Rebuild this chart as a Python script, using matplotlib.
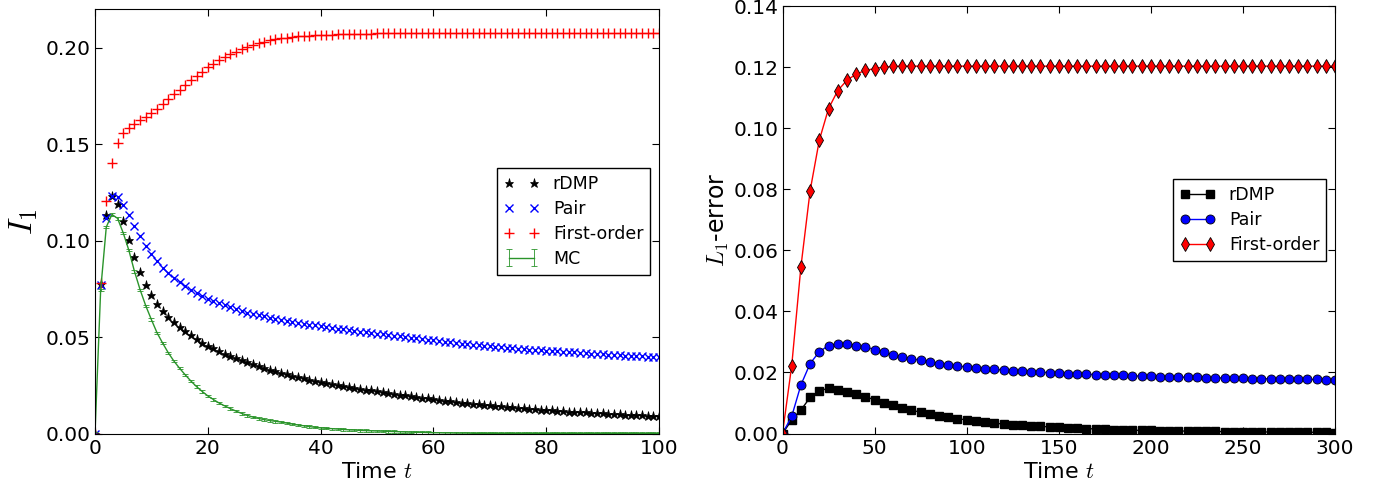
import numpy as np
import matplotlib
matplotlib.use("Agg")
import matplotlib.pyplot as plt

# ---- left panel: I_1 over time (one value per integer t) ----
t_left = np.arange(0, 101)

first_order_left = [
    0.0, 0.0780, 0.1203, 0.1404, 0.1504, 0.1555, 0.1582, 0.1605, 0.1624, 0.1641,
    0.1660, 0.1684, 0.1710, 0.1734, 0.1758, 0.1782, 0.1808, 0.1831, 0.1854, 0.1876,
    0.1897, 0.1916, 0.1935, 0.1952, 0.1965, 0.1979, 0.1991, 0.2004, 0.2014, 0.2022,
    0.2031, 0.2038, 0.2043, 0.2048, 0.2052, 0.2055, 0.2058, 0.2060, 0.2062, 0.2063,
    0.2064, 0.2066, 0.2067, 0.2068, 0.2069, 0.2070, 0.2071, 0.2072, 0.2072, 0.2073,
    0.2074, 0.2074, 0.2074, 0.2074, 0.2074, 0.2075, 0.2075, 0.2075, 0.2075, 0.2075,
    0.2075, 0.2075, 0.2075, 0.2075, 0.2075, 0.2075, 0.2075, 0.2075, 0.2075, 0.2075,
    0.2075, 0.2075, 0.2075, 0.2075, 0.2075, 0.2075, 0.2075, 0.2075, 0.2075, 0.2075,
    0.2075, 0.2075, 0.2075, 0.2075, 0.2075, 0.2075, 0.2075, 0.2075, 0.2075, 0.2075,
    0.2075, 0.2075, 0.2075, 0.2075, 0.2075, 0.2075, 0.2075, 0.2075, 0.2075, 0.2075,
    0.2075,
]

pair_left = [
    0.0, 0.0772, 0.1115, 0.1232, 0.1227, 0.1184, 0.1132, 0.1074, 0.1022, 0.0973,
    0.0930, 0.0892, 0.0859, 0.0831, 0.0808, 0.0785, 0.0764, 0.0745, 0.0728, 0.0713,
    0.0699, 0.0687, 0.0675, 0.0665, 0.0655, 0.0645, 0.0636, 0.0627, 0.0620, 0.0613,
    0.0607, 0.0600, 0.0594, 0.0588, 0.0583, 0.0578, 0.0573, 0.0569, 0.0564, 0.0560,
    0.0556, 0.0552, 0.0548, 0.0544, 0.0540, 0.0536, 0.0532, 0.0528, 0.0525, 0.0521,
    0.0517, 0.0514, 0.0510, 0.0507, 0.0503, 0.0500, 0.0496, 0.0493, 0.0489, 0.0486,
    0.0482, 0.0479, 0.0476, 0.0472, 0.0469, 0.0466, 0.0463, 0.0460, 0.0457, 0.0454,
    0.0451, 0.0449, 0.0447, 0.0444, 0.0442, 0.0440, 0.0438, 0.0435, 0.0433, 0.0431,
    0.0429, 0.0427, 0.0425, 0.0423, 0.0422, 0.0420, 0.0418, 0.0416, 0.0414, 0.0413,
    0.0411, 0.0409, 0.0408, 0.0406, 0.0404, 0.0403, 0.0401, 0.0400, 0.0399, 0.0397,
    0.0396,
]

rdmp_left = [
    0.0, 0.0777, 0.1132, 0.1232, 0.1189, 0.1103, 0.1003, 0.0914, 0.0837, 0.0772,
    0.0716, 0.0670, 0.0634, 0.0605, 0.0576, 0.0552, 0.0529, 0.0509, 0.0488, 0.0471,
    0.0455, 0.0442, 0.0428, 0.0414, 0.0402, 0.0390, 0.0380, 0.0370, 0.0359, 0.0349,
    0.0340, 0.0331, 0.0323, 0.0315, 0.0307, 0.0300, 0.0292, 0.0286, 0.0279, 0.0273,
    0.0268, 0.0262, 0.0257, 0.0251, 0.0246, 0.0241, 0.0236, 0.0232, 0.0227, 0.0223,
    0.0219, 0.0214, 0.0210, 0.0206, 0.0201, 0.0197, 0.0193, 0.0189, 0.0185, 0.0182,
    0.0178, 0.0174, 0.0171, 0.0167, 0.0164, 0.0160, 0.0157, 0.0154, 0.0151, 0.0149,
    0.0146, 0.0143, 0.0141, 0.0138, 0.0136, 0.0133, 0.0131, 0.0129, 0.0126, 0.0124,
    0.0122, 0.0120, 0.0118, 0.0116, 0.0114, 0.0112, 0.0110, 0.0109, 0.0107, 0.0105,
    0.0104, 0.0102, 0.0101, 0.0099, 0.0098, 0.0096, 0.0095, 0.0094, 0.0092, 0.0091,
    0.0090,
]

mc_left = [
    0.0, 0.0742, 0.1070, 0.1135, 0.1115, 0.1040, 0.0950, 0.0840, 0.0745, 0.0662,
    0.0590, 0.0522, 0.0468, 0.0418, 0.0375, 0.0338, 0.0304, 0.0272, 0.0243, 0.0218,
    0.0195, 0.0176, 0.0158, 0.0143, 0.0129, 0.0116, 0.0104, 0.0094, 0.0085, 0.0078,
    0.0072, 0.0067, 0.0063, 0.0059, 0.0054, 0.0049, 0.0044, 0.0040, 0.0036, 0.0032,
    0.0029, 0.0027, 0.0025, 0.0023, 0.0021, 0.0019, 0.0018, 0.0016, 0.0015, 0.0014,
    0.0013, 0.0012, 0.0011, 0.0010, 0.0009, 0.0008, 0.0007, 0.0006, 0.0006, 0.0005,
    0.0004, 0.0004, 0.0003, 0.0003, 0.0002, 0.0002, 0.0002, 0.0001, 0.0001, 0.0001,
    0.0001, 0.0, 0.0, 0.0, 0.0, 0.0, 0.0, 0.0, 0.0, 0.0,
    0.0, 0.0, 0.0, 0.0, 0.0, 0.0, 0.0, 0.0, 0.0, 0.0,
    0.0, 0.0, 0.0, 0.0, 0.0, 0.0, 0.0, 0.0, 0.0, 0.0,
    0.0,
]
mc_err = 0.0006

# ---- right panel: L1 error, every 5 time units ----
t_right = np.arange(0, 301, 5)

rdmp_err = [
    0.0, 0.0044, 0.0077, 0.0118, 0.0140, 0.0148, 0.0144, 0.0137, 0.0130, 0.0121,
    0.0110, 0.0101, 0.0092, 0.0084, 0.0076, 0.0070, 0.0064, 0.0058, 0.0053, 0.0048,
    0.0045, 0.0041, 0.0037, 0.0034, 0.0031, 0.0029, 0.0027, 0.0025, 0.0023, 0.0022,
    0.0020, 0.0019, 0.0017, 0.0016, 0.0015, 0.0014, 0.0013, 0.0012, 0.0011, 0.0010,
    0.0010, 0.0009, 0.0009, 0.0008, 0.0008, 0.0007, 0.0007, 0.0007, 0.0006, 0.0006,
    0.0006, 0.0005, 0.0005, 0.0005, 0.0005, 0.0004, 0.0004, 0.0004, 0.0004, 0.0004,
    0.0003,
]

pair_err = [
    0.0, 0.0056, 0.0159, 0.0229, 0.0268, 0.0288, 0.0294, 0.0294, 0.0288, 0.0283,
    0.0275, 0.0266, 0.0258, 0.0251, 0.0245, 0.0240, 0.0235, 0.0229, 0.0225, 0.0221,
    0.0218, 0.0215, 0.0212, 0.0210, 0.0208, 0.0206, 0.0204, 0.0203, 0.0201, 0.0199,
    0.0197, 0.0196, 0.0195, 0.0194, 0.0193, 0.0192, 0.0191, 0.0190, 0.0189, 0.0188,
    0.0187, 0.0186, 0.0186, 0.0185, 0.0184, 0.0184, 0.0183, 0.0182, 0.0182, 0.0181,
    0.0181, 0.0180, 0.0180, 0.0179, 0.0179, 0.0178, 0.0178, 0.0177, 0.0177, 0.0176,
    0.0176,
]

first_order_err = [
    0.0, 0.0222, 0.0546, 0.0795, 0.0961, 0.1064, 0.1123, 0.1157, 0.1177, 0.1189,
    0.1195, 0.1200, 0.1202, 0.1203, 0.1203, 0.1203, 0.1203, 0.1203, 0.1203, 0.1203,
    0.1203, 0.1203, 0.1203, 0.1203, 0.1203, 0.1203, 0.1203, 0.1203, 0.1203, 0.1203,
    0.1203, 0.1203, 0.1203, 0.1203, 0.1203, 0.1203, 0.1203, 0.1203, 0.1203, 0.1203,
    0.1203, 0.1203, 0.1203, 0.1203, 0.1203, 0.1203, 0.1203, 0.1203, 0.1203, 0.1203,
    0.1203, 0.1203, 0.1203, 0.1203, 0.1203, 0.1203, 0.1203, 0.1203, 0.1203, 0.1203,
    0.1203,
]

plt.rcParams.update({
    "font.family": "DejaVu Sans",
    "mathtext.fontset": "cm",
    "xtick.direction": "in",
    "ytick.direction": "in",
    "xtick.top": True,
    "ytick.right": True,
    "xtick.major.size": 5,
    "ytick.major.size": 5,
    "xtick.major.pad": 4,
    "ytick.major.pad": 3,
    "xtick.labelsize": 14.5,
    "ytick.labelsize": 14.5,
    "legend.fancybox": False,
    "legend.edgecolor": "black",
    "legend.framealpha": 1,
    "legend.numpoints": 2,
    "legend.handlelength": 2,
    "legend.handletextpad": 0.8,
    "legend.labelspacing": 0.4,
    "legend.borderpad": 0.4,
})

fig = plt.figure(figsize=(13.76, 4.87), dpi=100)
fig.patch.set_facecolor("white")

ax1 = fig.add_axes([95 / 1376, 53.5 / 487, 564 / 1376, 424.5 / 487])
ax1.plot(t_left, rdmp_left, linestyle="none", marker="*", color="black",
         markersize=6.5, markeredgewidth=0.5, label="rDMP")
ax1.plot(t_left, pair_left, linestyle="none", marker="x", color="blue",
         markersize=5.5, markeredgewidth=1.0, label="Pair")
ax1.plot(t_left, first_order_left, linestyle="none", marker="+", color="red",
         markersize=6.5, markeredgewidth=1.0, label="First-order")
ax1.errorbar(t_left, mc_left, yerr=mc_err, color="#2a942a", linewidth=1.0,
             capsize=2.5, elinewidth=0.6, capthick=0.6, label="MC")
ax1.set_xlim(0, 100)
ax1.set_ylim(0, 0.22)
ax1.set_xticks([0, 20, 40, 60, 80, 100])
ax1.set_yticks([0.0, 0.05, 0.10, 0.15, 0.20])
ax1.yaxis.set_major_formatter(matplotlib.ticker.FormatStrFormatter("%.2f"))
ax1.set_xlabel("Time $t$", fontsize=16, labelpad=3)
ax1.set_ylabel("$I_1$", fontsize=24, labelpad=4)
ax1.legend(loc="center right", fontsize=12.5)

ax2 = fig.add_axes([782.5 / 1376, 53.5 / 487, 552.5 / 1376, 427.5 / 487])
ax2.plot(t_right, rdmp_err, "-s", color="black", markerfacecolor="black",
         markeredgecolor="black", markersize=6, linewidth=1.0, label="rDMP")
ax2.plot(t_right, pair_err, "-o", color="blue", markerfacecolor="blue",
         markeredgecolor="black", markeredgewidth=0.6, markersize=6.5,
         linewidth=1.0, label="Pair")
ax2.plot(t_right, first_order_err, "-d", color="red", markerfacecolor="red",
         markeredgecolor="black", markeredgewidth=0.6, markersize=7.5,
         linewidth=1.0, label="First-order")
ax2.set_xlim(0, 300)
ax2.set_ylim(0, 0.14)
ax2.set_xticks([0, 50, 100, 150, 200, 250, 300])
ax2.set_yticks([0.0, 0.02, 0.04, 0.06, 0.08, 0.10, 0.12, 0.14])
ax2.yaxis.set_major_formatter(matplotlib.ticker.FormatStrFormatter("%.2f"))
ax2.set_xlabel("Time $t$", fontsize=16, labelpad=3)
ax2.set_ylabel("$L_1$-error", fontsize=17, labelpad=2)
ax2.legend(loc="center right", fontsize=12.5)

fig.savefig("out.png", dpi=100, facecolor="white")
